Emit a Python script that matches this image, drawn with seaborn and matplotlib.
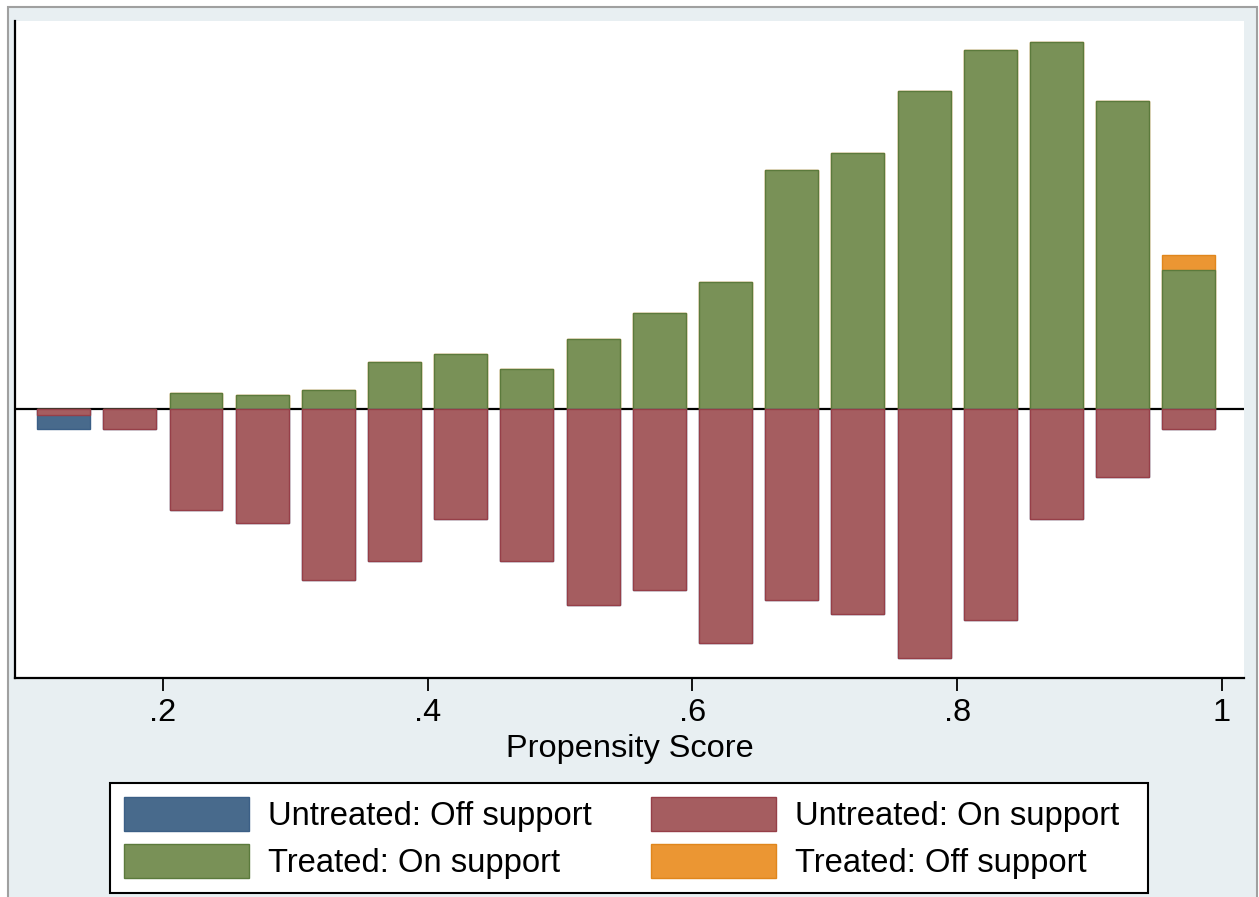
import numpy as np
import pandas as pd
import matplotlib as mpl
import matplotlib.pyplot as plt
from matplotlib.patches import Patch, Rectangle
import seaborn as sns

# bin midpoints of the propensity score (bin width .05)
bin_mid = [0.125, 0.175, 0.225, 0.275, 0.325, 0.375, 0.425, 0.475, 0.525,
           0.575, 0.625, 0.675, 0.725, 0.775, 0.825, 0.875, 0.925, 0.975]

# heights (same arbitrary frequency unit for all series)
treated_on = [0.0, 0.0, 1.6, 1.4, 1.9, 4.7, 5.5, 4.0, 7.0,
              9.6, 12.7, 23.9, 25.6, 31.8, 35.9, 36.7, 30.8, 13.9]
treated_off = [0.0, 0.0, 0.0, 0.0, 0.0, 0.0, 0.0, 0.0, 0.0,
               0.0, 0.0, 0.0, 0.0, 0.0, 0.0, 0.0, 0.0, 1.5]
untreated_on = [0.6, 2.0, 10.1, 11.4, 17.1, 15.2, 11.0, 15.2, 19.6,
                18.1, 23.4, 19.1, 20.5, 24.9, 21.1, 11.0, 6.8, 2.0]
untreated_off = [1.4, 0.0, 0.0, 0.0, 0.0, 0.0, 0.0, 0.0, 0.0,
                 0.0, 0.0, 0.0, 0.0, 0.0, 0.0, 0.0, 0.0, 0.0]

tick_vals = [0.2, 0.4, 0.6, 0.8, 1.0]
tick_labels = [".2", ".4", ".6", ".8", "1"]

col_blue = "#486a8c"
col_red = "#a55d60"
col_green = "#799157"
col_orange = "#eb9633"

sns.set_style("white")
plt.rcParams["font.family"] = ["Liberation Sans", "DejaVu Sans"]
plt.rcParams["text.color"] = "black"
plt.rcParams["axes.labelcolor"] = "black"
plt.rcParams["xtick.color"] = "black"

df = pd.DataFrame({
    "ps": bin_mid,
    "t_on": treated_on,
    "t_all": np.add(treated_on, treated_off),
    "u_on": np.negative(untreated_on),
    "u_all": np.negative(np.add(untreated_on, untreated_off)),
})

W, H = 1259, 897
fig = plt.figure(figsize=(W / 100, H / 100), dpi=100, facecolor="white")

# stata-like graph region with grey frame
fig.patches.append(Rectangle((8 / W, -0.01), (1257 - 8) / W, (H - 7) / H + 0.01,
                             transform=fig.transFigure, facecolor="#e8eff2",
                             edgecolor="#a0a0a0", linewidth=1.5, zorder=-10))
# legend box
fig.patches.append(Rectangle((110 / W, 1 - 893 / H), (1148 - 110) / W, (893 - 783) / H,
                             transform=fig.transFigure, facecolor="white",
                             edgecolor="black", linewidth=1.5, zorder=-5))

ax = fig.add_axes([15 / W, 1 - 678 / H, (1244 - 15) / W, (678 - 21) / H])
ax.set_facecolor("white")

ax.axhline(0, color="black", lw=1.6, zorder=1)

bar_kw = dict(native_scale=True, width=0.8, errorbar=None, ax=ax, zorder=2, linewidth=1.0)
# stacked look: draw totals first, then the "on support" part over them
sns.barplot(data=df, x="ps", y="t_all", color=col_orange, edgecolor="#e0861c", saturation=1, **bar_kw)
sns.barplot(data=df, x="ps", y="t_on", color=col_green, edgecolor="#5b7a3c", saturation=1, **bar_kw)
sns.barplot(data=df, x="ps", y="u_all", color=col_blue, edgecolor="#3b5f86", saturation=1, **bar_kw)
sns.barplot(data=df, x="ps", y="u_on", color=col_red, edgecolor="#963f48", saturation=1, **bar_kw)

ax.set_xlim(0.0883, 1.0166)
ax.set_ylim(-26.9, 38.8)
ax.set_xticks(tick_vals)
ax.set_xticklabels(tick_labels)
ax.set_yticks([])
ax.tick_params(axis="x", direction="out", length=9.5, width=1.3, color="black",
               labelsize=23.4, pad=5, bottom=True, labelcolor="black")
ax.set_xlabel("Propensity Score", fontsize=23.4, labelpad=4, color="black")
ax.set_ylabel("")

for side in ["top", "right"]:
    ax.spines[side].set_visible(False)
for side in ["left", "bottom"]:
    ax.spines[side].set_color("black")
    ax.spines[side].set_linewidth(1.6)

handles = [
    Patch(facecolor=col_blue, edgecolor="#3b5f86", label="Untreated: Off support"),
    Patch(facecolor=col_green, edgecolor="#5b7a3c", label="Treated: On support"),
    Patch(facecolor=col_red, edgecolor="#963f48", label="Untreated: On support"),
    Patch(facecolor=col_orange, edgecolor="#e0861c", label="Treated: Off support"),
]
leg = fig.legend(handles=handles, ncol=2, loc="upper left", bbox_to_anchor=(124 / W, 1 - 797 / H),
                 fontsize=23.6, frameon=False,
                 handlelength=3.8, handleheight=1.2, handletextpad=0.6,
                 columnspacing=1.8, labelspacing=0.37, borderpad=0, borderaxespad=0)
for t in leg.get_texts():
    t.set_color("black")

fig.savefig("out.png", dpi=100, facecolor="white")
